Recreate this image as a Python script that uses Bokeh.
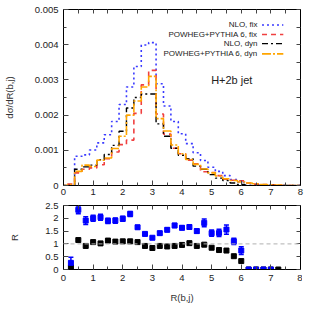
from bokeh.plotting import figure
from bokeh.layouts import column
from bokeh.models import FixedTicker, Label, Span, Whisker, ColumnDataSource, LinearAxis, PrintfTickFormatter
from bokeh.embed import file_html
from bokeh.resources import INLINE

# ---------------- data ----------------
bin_width = 0.25
centers = [0.0, 0.25, 0.5, 0.75, 1.0, 1.25, 1.5, 1.75, 2.0, 2.25, 2.5, 2.75, 3.0,
           3.25, 3.5, 3.75, 4.0, 4.25, 4.5, 4.75, 5.0, 5.25, 5.5, 5.75, 6.0,
           6.25, 6.5, 6.75, 7.0, 7.25, 7.5, 7.75, 8.0]

nlo_fix = [0, 0.00001, 0.00083, 0.00087, 0.00101, 0.00121, 0.00144, 0.00182, 0.0023,
           0.0028, 0.00338, 0.00399, 0.00406, 0.00289, 0.00226, 0.00182, 0.00147,
           0.00119, 0.00093, 0.00071, 0.00052, 0.0004, 0.00028, 0.00017, 0.0001,
           0, 0, 0, 0, 0, 0, 0, 0]
pow_fix = [0, 0.00004, 0.00036, 0.00046, 0.0005, 0.00059, 0.00076, 0.00095, 0.00116,
           0.00129, 0.00205, 0.00286, 0.00327, 0.00203, 0.00146, 0.00106, 0.0009,
           0.00072, 0.00062, 0.00039, 0.00037, 0.00028, 0.00018, 0.00015, 0.00013,
           0.00007, 0.00004, 0.00003, 0.00002, 0.00001, 0, 0, 0]
nlo_dyn = [0, 0.0, 0.00046, 0.00053, 0.00058, 0.00073, 0.00088, 0.00114, 0.00154,
           0.0022, 0.0025, 0.0026, 0.0026, 0.00175, 0.0014, 0.00106, 0.00086,
           0.00076, 0.00055, 0.00046, 0.00031, 0.00021, 0.00014, 0.00007, 0.00003,
           0, 0, 0, 0, 0, 0, 0, 0]
pow_dyn = [0, 0.00003, 0.0004, 0.00058, 0.00054, 0.00072, 0.00078, 0.00105, 0.0014,
           0.002, 0.0024, 0.0028, 0.0031, 0.0019, 0.00155, 0.00115, 0.0009,
           0.00074, 0.0006, 0.00047, 0.00036, 0.00027, 0.00019, 0.00014, 0.0001,
           0.00007, 0.00005, 0.00003, 0.00002, 0.00001, 0, 0, 0]

r_x_fix = [0.25, 0.5, 0.75, 1.0, 1.25, 1.5, 1.75, 2.0, 2.25, 2.5, 2.75, 3.0, 3.25, 3.5,
           3.75, 4.0, 4.25, 4.5, 4.75, 5.0, 5.25, 5.5, 5.75, 6.0, 6.25, 6.5, 6.75, 7.0]
r_fix = [0.26, 2.33, 1.91, 2.0, 2.04, 1.9, 1.91, 1.98, 2.17, 1.65, 1.39, 1.24, 1.42, 1.55,
         1.72, 1.63, 1.66, 1.5, 1.82, 1.42, 1.43, 1.56, 1.1, 0.74, 0, 0, 0, 0]
r_fix_err = [0.22, 0.15, 0.15, 0.12, 0.12, 0.1, 0.1, 0.1, 0.1, 0.07, 0.06, 0.05, 0.06, 0.07,
             0.08, 0.08, 0.08, 0.08, 0.15, 0.12, 0.14, 0.18, 0.12, 0.15, 0.02, 0.02, 0.02, 0.02]
r_x_dyn = [0.25, 0.5, 0.75, 1.0, 1.25, 1.5, 1.75, 2.0, 2.25, 2.5, 2.75, 3.0, 3.25, 3.5,
           3.75, 4.0, 4.25, 4.5, 4.75, 5.0, 5.25, 5.5, 5.75, 6.0, 6.25, 6.5, 6.75, 7.0, 7.25]
r_dyn = [0.08, 1.15, 0.92, 1.07, 1.02, 1.13, 1.09, 1.1, 1.1, 1.07, 0.92, 0.84, 0.92, 0.9,
         0.92, 0.96, 1.03, 0.92, 0.97, 0.85, 0.76, 0.74, 0.52, 0.33, 0, 0, 0, 0, 0]
r_dyn_err = [0.04] * len(r_dyn)

legend_labels = ["NLO, fix", "POWHEG+PYTHIA 6, fix", "NLO, dyn", "POWHEG+PYTHIA 6, dyn"]
x_ticks = [0, 1, 2, 3, 4, 5, 6, 7, 8]
x_minor = [0, 0.5, 1, 1.5, 2, 2.5, 3, 3.5, 4, 4.5, 5, 5.5, 6, 6.5, 7, 7.5, 8]
y_ticks_top = [0, 0.001, 0.002, 0.003, 0.004, 0.005]
y_minor_top = [0, 0.0005, 0.001, 0.0015, 0.002, 0.0025, 0.003, 0.0035, 0.004, 0.0045, 0.005]
y_ticks_r = [0, 0.5, 1, 1.5, 2, 2.5]

# ---------------- style ----------------
FONT = "Arial"
TXT = "#222222"
C_BLUE, C_RED, C_BLACK, C_ORANGE = "#3a3aff", "#f04040", "#000000", "#ffa500"
styles = [
    dict(color=C_BLUE, dash="2 3", width=1.6),
    dict(color=C_RED, dash="5 4", width=1.6),
    dict(color=C_BLACK, dash="6 3 2 3", width=1.4),
    dict(color=C_ORANGE, dash="9 2 2 2", width=1.6),
]


def style_axis(ax, ticks, minor, fmt="%g", standoff=5):
    ax.ticker = FixedTicker(ticks=ticks, minor_ticks=minor)
    ax.formatter = PrintfTickFormatter(format=fmt)
    ax.major_tick_in = 5
    ax.major_tick_out = 0
    ax.minor_tick_in = 3
    ax.minor_tick_out = 0
    ax.axis_line_color = "black"
    ax.major_tick_line_color = "#444444"
    ax.minor_tick_line_color = "#444444"
    ax.major_label_text_font = FONT
    ax.major_label_text_color = TXT
    ax.major_label_text_font_size = "9.5px"
    ax.major_label_standoff = standoff
    ax.axis_label_text_font = FONT
    ax.axis_label_text_font_style = "normal"
    ax.axis_label_text_color = "#333333"
    ax.axis_label_text_font_size = "9.5px"


def mirror_axis(ticks):
    # tick marks only, no labels (mirror of the opposite axis)
    ax = LinearAxis(ticker=FixedTicker(ticks=[], minor_ticks=ticks))
    ax.minor_tick_in = 4
    ax.minor_tick_out = 0
    ax.major_tick_in = 0
    ax.major_tick_out = 0
    ax.minor_tick_line_color = "#444444"
    ax.axis_line_color = "black"
    ax.major_label_standoff = 0
    return ax


def edges_of(cs):
    return [c - bin_width / 2 for c in cs] + [cs[-1] + bin_width / 2]


# ---------------- top panel ----------------
p1 = figure(frame_width=237, frame_height=176, x_range=(0, 8), y_range=(0, 0.005),
            output_backend="svg", toolbar_location=None,
            min_border_left=52, min_border_right=8, min_border_top=9, min_border_bottom=14)
p1.grid.visible = False
p1.outline_line_color = "black"
p1.background_fill_color = "white"
p1.border_fill_color = "white"

style_axis(p1.xaxis[0], x_ticks, x_minor, standoff=3)
style_axis(p1.yaxis[0], y_ticks_top, y_minor_top)
p1.yaxis[0].axis_label = "dσ/dR(b,j)"
p1.yaxis[0].axis_label_standoff = 17
p1.add_layout(mirror_axis(y_minor_top), "right")
p1.add_layout(mirror_axis(x_minor), "above")

edges = edges_of(centers)
for vals, st in zip([nlo_fix, pow_fix, nlo_dyn, pow_dyn], styles):
    p1.step(x=edges, y=list(vals) + [vals[-1]], mode="after", line_color=st["color"],
            line_dash=st["dash"], line_width=st["width"])

# legend (text right-aligned, sample on the right)
leg_text_x = 6.55
leg_line_x = [6.7, 7.42]
leg_y = [0.00456, 0.00429, 0.00403, 0.00374]
for lab, yy, st in zip(legend_labels, leg_y, styles):
    p1.add_layout(Label(x=leg_text_x, y=yy, text=lab, text_align="right", text_baseline="middle",
                        text_font=FONT, text_font_size="8px", text_color=TXT))
    p1.line(x=leg_line_x, y=[yy, yy], line_color=st["color"], line_dash=st["dash"],
            line_width=st["width"])

p1.add_layout(Label(x=5.68, y=0.003, text="H+2b jet", text_align="center", text_baseline="middle",
                    text_font=FONT, text_font_size="11px", text_color=TXT))

# ---------------- ratio panel ----------------
p2 = figure(frame_width=237, frame_height=64, x_range=(0, 8), y_range=(0, 2.5),
            output_backend="svg", toolbar_location=None,
            min_border_left=52, min_border_right=8, min_border_top=6, min_border_bottom=36)
p2.grid.visible = False
p2.outline_line_color = "black"
style_axis(p2.xaxis[0], x_ticks, x_minor)
style_axis(p2.yaxis[0], y_ticks_r, y_ticks_r)
p2.xaxis[0].axis_label = "R(b,j)"
p2.xaxis[0].axis_label_standoff = 8
p2.yaxis[0].axis_label = "R"
p2.yaxis[0].axis_label_standoff = 22
p2.add_layout(mirror_axis(y_ticks_r), "right")
p2.add_layout(mirror_axis(x_minor), "above")

p2.add_layout(Span(location=1, dimension="width", line_color="#b0b0b0", line_dash="4 3", line_width=1))

src_f = ColumnDataSource(dict(x=r_x_fix, y=r_fix,
                              lo=[a - b for a, b in zip(r_fix, r_fix_err)],
                              hi=[a + b for a, b in zip(r_fix, r_fix_err)]))
src_d = ColumnDataSource(dict(x=r_x_dyn, y=r_dyn,
                              lo=[a - b for a, b in zip(r_dyn, r_dyn_err)],
                              hi=[a + b for a, b in zip(r_dyn, r_dyn_err)]))
w = Whisker(source=src_f, base="x", upper="hi", lower="lo", line_color="#0000ff", line_width=1.5)
w.upper_head.size = 5
w.lower_head.size = 5
w.upper_head.line_color = "#0000ff"
w.lower_head.line_color = "#0000ff"
w.upper_head.line_width = 1.5
w.lower_head.line_width = 1.5
p2.add_layout(w)
p2.scatter(x="x", y="y", source=src_d, marker="square", size=5, color="black")
p2.scatter(x="x", y="y", source=src_f, marker="square", size=5, color="#0000ff")

layout = column(p1, p2, spacing=0)
open("out.html", "w").write(file_html(layout, INLINE))
